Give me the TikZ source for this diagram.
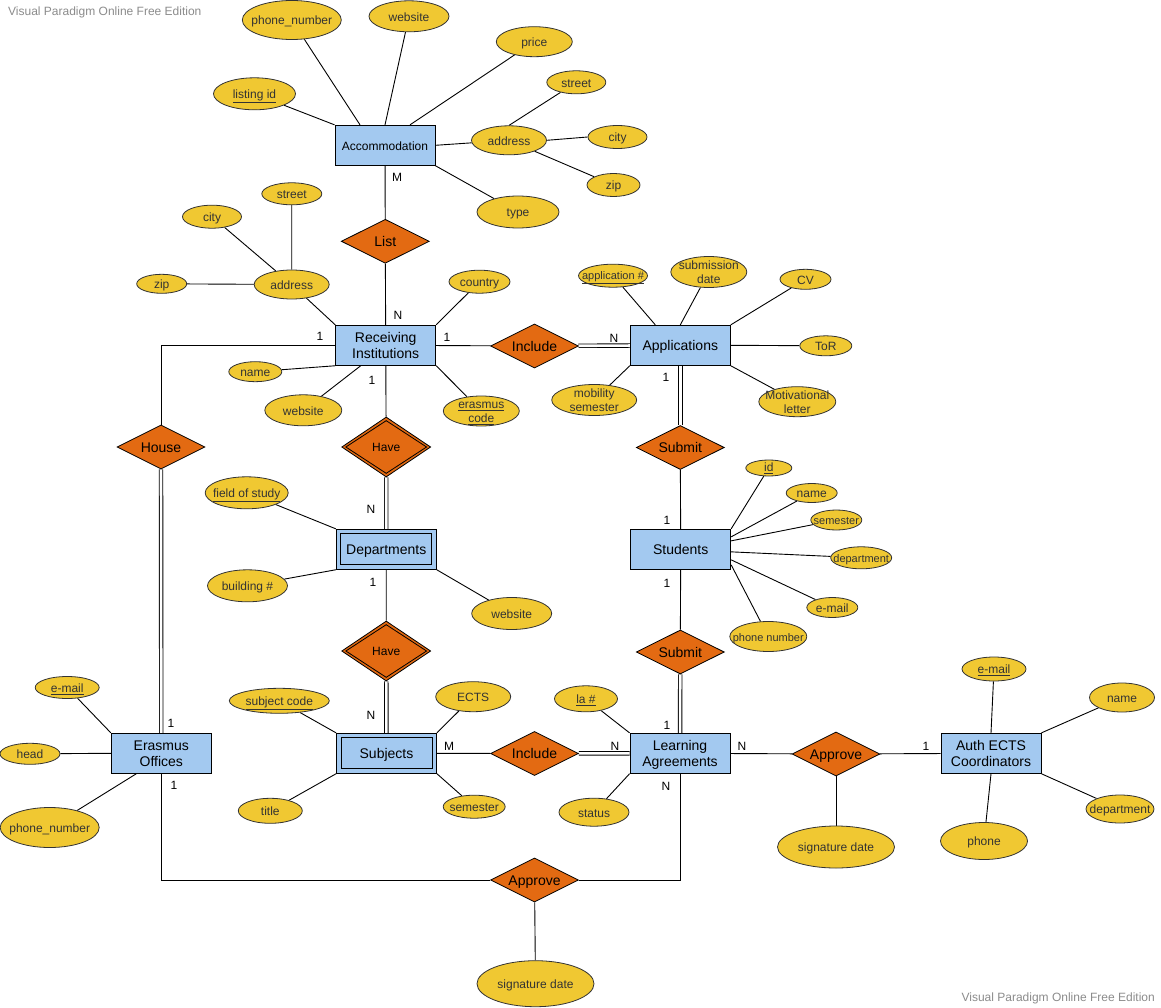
\documentclass[tikz,border=0pt]{standalone}
\usepackage{fontspec}
\setmainfont{Liberation Sans}
\usetikzlibrary{shapes.geometric,backgrounds}

\definecolor{entblue}{HTML}{A3C9F0}
\definecolor{relorange}{HTML}{E36A12}
\definecolor{attrgold}{HTML}{F0C832}
\definecolor{attrink}{HTML}{333333}
\definecolor{wmgray}{HTML}{8C8C8C}

% zero-size, centred text block so every shape keeps its own size
\newcommand\ctext[1]{\makebox[0pt]{\raisebox{\dimexpr-0.25em-2pt\relax}[0pt][0pt]{\begin{tabular}{@{}c@{}}#1\end{tabular}}}}

\tikzset{
  ent/.style={draw, fill=entblue, line width=0.9pt, minimum width=100pt, minimum height=40pt,
    inner sep=0pt, font=\fontsize{14}{16}\selectfont},
  rel/.style={diamond, draw, fill=relorange, line width=0.8pt, minimum width=88pt,
    minimum height=44pt, inner sep=0pt, font=\fontsize{14}{16}\selectfont},
  weakrel/.style={rel, minimum width=89pt, minimum height=60pt, font=\fontsize{12}{14}\selectfont},
  innerdia/.style={diamond, draw, line width=0.8pt, minimum width=81pt, minimum height=53pt, inner sep=0pt},
  attr/.style 2 args={ellipse, draw=black!80, fill=attrgold, line width=0.8pt,
    minimum width=#1pt, minimum height=#2pt, inner sep=0pt, text=attrink,
    font=\fontsize{12}{14}\selectfont},
  small/.style={font=\fontsize{11}{13}\selectfont},
  card/.style={inner sep=0pt, font=\fontsize{12}{14}\selectfont},
  link/.style={line width=0.9pt},
  dbl/.style={double, double distance=2.6pt, line width=0.9pt},
  wm/.style={inner sep=0pt, text=wmgray, font=\fontsize{12}{14}\selectfont}
}

\begin{document}
\begin{tikzpicture}[x=1pt,y=-1pt]
\useasboundingbox (0,0) rectangle (1161,1008);

% ---------- entities ----------
\node[ent, font=\fontsize{12}{14}\selectfont] (acc) at (385,145.3) {\ctext{Accommodation}};
\node[ent] (ri)   at (385.7,345.3) {\ctext{Receiving\\Institutions}};
\node[ent] (app)  at (680.3,345.3) {\ctext{Applications}};
\node[ent] (dep)  at (386.3,549.3) {\ctext{Departments}};
\node[ent] (stu)  at (680.7,549.3) {\ctext{Students}};
\node[ent] (eo)   at (161.3,753.3) {\ctext{Erasmus\\Offices}};
\node[ent] (sub)  at (386.5,753.3) {\ctext{Subjects}};
\node[ent] (la)   at (680,753.3)   {\ctext{Learning\\Agreements}};
\node[ent] (auth) at (991,753.3)   {\ctext{Auth ECTS\\Coordinators}};

% inner frames of the weak entities
\draw[line width=0.9pt] ([xshift=5pt,yshift=-5pt]dep.north west) rectangle ([xshift=-5pt,yshift=5pt]dep.south east);
\draw[line width=0.9pt] ([xshift=5pt,yshift=-5pt]sub.north west) rectangle ([xshift=-5pt,yshift=5pt]sub.south east);

% ---------- relationships ----------
\node[rel] (list)  at (385.3,241.3) {\ctext{List}};
\node[rel] (incA)  at (534.5,346)   {\ctext{Include}};
\node[rel] (house) at (161,447)     {\ctext{House}};
\node[weakrel] (have1) at (386.2,447) {\ctext{Have}};
\node[innerdia] (have1in) at (have1) {};
\node[rel] (subm1) at (680.3,447.5) {\ctext{Submit}};
\node[weakrel] (have2) at (386.2,651) {\ctext{Have}};
\node[innerdia] (have2in) at (have2) {};
\node[rel] (subm2) at (680.3,652)   {\ctext{Submit}};
\node[rel] (incB)  at (534.5,753.5) {\ctext{Include}};
\node[rel] (apprA) at (836,754)     {\ctext{Approve}};
\node[rel] (apprB) at (534.5,880)   {\ctext{Approve}};

% ---------- attributes ----------
% Accommodation
\node[attr={99}{39}] (phone1)  at (291.8,20)   {\ctext{phone\_number}};
\node[attr={80}{31}] (web1)    at (409,16.3)   {\ctext{website}};
\node[attr={76}{30}] (price)   at (534.3,41.7) {\ctext{price}};
\node[attr={82}{32}] (listid)  at (254.5,93.8) {\ctext{\underline{listing id}}};
\node[attr={59}{23}] (street1) at (576.3,82.3) {\ctext{street}};
\node[attr={75}{29}] (addr1)   at (509,140.3)  {\ctext{address}};
\node[attr={59}{23}] (city1)   at (617.5,137)  {\ctext{city}};
\node[attr={53}{23}] (zip1)    at (613.5,185)  {\ctext{zip}};
\node[attr={82}{32}] (type)    at (518,212)    {\ctext{type}};
% Receiving Institutions
\node[attr={60}{22}] (street2) at (291.8,193.8) {\ctext{street}};
\node[attr={59}{23}] (city2)   at (212,216.7)   {\ctext{city}};
\node[attr={50}{19}] (zip2)    at (161.7,283.8) {\ctext{zip}};
\node[attr={75}{29}] (addr2)   at (291.7,284.5) {\ctext{address}};
\node[attr={61}{23}] (country) at (479.5,281.7) {\ctext{country}};
\node[attr={53}{20}] (name2)   at (255.3,371.7) {\ctext{name}};
\node[attr={77}{31}] (web2)    at (303.3,410.3) {\ctext{website}};
\node[attr={76}{30}] (ecode)   at (481.3,411)   {\ctext{\underline{erasmus}\\\underline{code}}};
% Applications
\node[attr={69}{23}, small] (appno) at (613,275.7) {\ctext{\raisebox{1pt}{\underline{application \#}}}};
\node[attr={76}{31}] (subdate) at (708.8,272)   {\ctext{submission\\date}};
\node[attr={51}{20}] (cv)      at (805.5,279.3) {\ctext{CV}};
\node[attr={52}{20}] (tor)     at (825.8,345.8) {\ctext{ToR}};
\node[attr={85}{31}] (mobsem)  at (594.2,400)   {\ctext{mobility\\semester}};
\node[attr={77}{30}] (motiv)   at (797.3,401.7) {\ctext{Motivational\\letter}};
% Departments
\node[attr={83}{32}] (fos)     at (246.7,492.8) {\ctext{\underline{field of study}}};
\node[attr={80}{32}] (bno)     at (247.5,585.8) {\ctext{building \#}};
\node[attr={80}{32}] (web3)    at (511.7,613.5) {\ctext{website}};
% Students
\node[attr={46}{16}] (sid)     at (768.8,468)   {\ctext{\raisebox{1.5pt}{\underline{id}}}};
\node[attr={51}{19}] (sname)   at (811.7,493)   {\ctext{name}};
\node[attr={51}{20}, small] (ssem)   at (836.3,520)   {\ctext{semester}};
\node[attr={61}{22}, small] (sdept)  at (861.2,557.8) {\ctext{department}};
\node[attr={51}{20}] (smail)   at (832.3,607.5) {\ctext{e-mail}};
\node[attr={77}{30}, small] (sphone) at (768.3,636.5) {\ctext{phone number}};
% Erasmus Offices
\node[attr={64}{22}] (eomail)  at (67.2,687.5)  {\ctext{\underline{e-mail}}};
\node[attr={60}{21}] (head)    at (30,753.8)    {\ctext{head}};
\node[attr={99}{40}] (eophone) at (49.7,827.5)  {\ctext{phone\_number}};
% Subjects
\node[attr={100}{25}] (scode)  at (279.3,700.8) {\ctext{\underline{subject code}}};
\node[attr={75}{30}] (ects)    at (473.2,696.7) {\ctext{ECTS}};
\node[attr={64}{25}] (title)   at (270.3,810.8) {\ctext{title}};
\node[attr={62}{23}] (subsem)  at (474.2,806.7) {\ctext{semester}};
% Learning Agreements
\node[attr={63}{26}] (lano)    at (586,698.8)   {\ctext{\underline{la \#}}};
\node[attr={70}{28}] (status)  at (594,812.2)   {\ctext{status}};
\node[attr={117}{42}] (sig1)   at (836,847)     {\ctext{signature date}};
\node[attr={117}{46}] (sig2)   at (535.5,983.7) {\ctext{signature date}};
% Auth ECTS Coordinators
\node[attr={64}{24}] (amail)   at (994,669)     {\ctext{\underline{e-mail}}};
\node[attr={65}{29}] (aname)   at (1122,697.5)  {\ctext{name}};
\node[attr={68}{28}] (adept)   at (1120,809)    {\ctext{department}};
\node[attr={87}{37}] (aphone)  at (984,841)     {\ctext{phone}};

% ---------- cardinalities ----------
\node[card] (m1)  at (397,177) {M};
\node[card] (n1)  at (398,315) {N};
\node[card] (o1)  at (447,337) {1};
\node[card] (n2)  at (614,338) {N};
\node[card] (o2)  at (320,336) {1};
\node[card] (o3)  at (372,380) {1};
\node[card] (n3)  at (371,509) {N};
\node[card] (o4)  at (373,582) {1};
\node[card] (n4)  at (371,715) {N};
\node[card] (o5)  at (666,377) {1};
\node[card] (o6)  at (667,520) {1};
\node[card] (o7)  at (667,583) {1};
\node[card] (o8)  at (667,725) {1};
\node[card] (o9)  at (171,723) {1};
\node[card] (o10) at (174,785) {1};
\node[card] (n5)  at (666,786) {N};
\node[card] (m2)  at (449,746) {M};
\node[card] (n6)  at (615,746) {N};
\node[card] (n7)  at (742,746) {N};
\node[card] (o11) at (926,746) {1};

% ---------- edition marks ----------
\node[wm, anchor=west] (wmtop) at (8,12) {Visual Paradigm Online Free Edition};
\node[wm, anchor=east] (wmbot) at (1155,998) {Visual Paradigm Online Free Edition};

% ---------- connectors ----------
\begin{scope}[on background layer]
\fill[white] (0,0) rectangle (1161,1008);

% relationship lines
\draw[link] (acc) -- (list);
\draw[link] (list) -- (ri);
\draw[link] (ri) -- (incA);
\draw[dbl]  (incA) -- (app);
\draw[link] (ri.west) -| (house.north);
\draw[dbl]  (house) -- (eo);
\draw[link] (ri) -- (have1);
\draw[dbl]  (have1) -- (dep);
\draw[link] (dep) -- (have2);
\draw[dbl]  (have2) -- (sub);
\draw[dbl]  (app) -- (subm1);
\draw[link] (subm1) -- (stu);
\draw[link] (stu) -- (subm2);
\draw[dbl]  (subm2) -- (la);
\draw[link] (sub) -- (incB);
\draw[dbl]  (incB) -- (la);
\draw[link] (la) -- (apprA);
\draw[link] (apprA) -- (auth);
\draw[link] (apprA) -- (sig1);
\draw[link] (eo.south) |- (apprB.west);
\draw[link] (la.south) |- (apprB.east);
\draw[link] (apprB) -- (sig2);

% Accommodation attributes
\draw[link] (phone1) -- ([xshift=-25pt]acc.north);
\draw[link] (web1) -- (acc.north);
\draw[link] (price) -- ([xshift=25pt]acc.north);
\draw[link] (listid) -- (acc.north west);
\draw[link] (addr1) -- (acc.east);
\draw[link] (type) -- (acc.south east);
\draw[link] (addr1.north) -- (street1);
\draw[link] (addr1.east) -- (city1.west);
\draw[link] (addr1) -- (zip1);

% Receiving Institutions attributes
\draw[link] (addr2) -- (ri.north west);
\draw[link] (country) -- (ri.north east);
\draw[link] (name2) -- (ri.south west);
\draw[link] (web2) -- ([xshift=-25pt]ri.south);
\draw[link] (ecode) -- (ri.south east);
\draw[link] (addr2) -- (street2);
\draw[link] (addr2) -- (city2);
\draw[link] (addr2) -- (zip2);

% Applications attributes
\draw[link] (appno) -- ([xshift=-25pt]app.north);
\draw[link] (subdate) -- (app.north);
\draw[link] (cv) -- (app.north east);
\draw[link] (tor) -- (app.east);
\draw[link] (mobsem) -- (app.south west);
\draw[link] (motiv) -- (app.south east);

% Departments attributes
\draw[link] (fos) -- (dep.north west);
\draw[link] (bno) -- (dep.south west);
\draw[link] (web3) -- (dep.south east);

% Students attributes
\draw[link] (sid) -- (stu.north east);
\draw[link] (sname) -- ([yshift=-8pt]stu.north east);
\draw[link] (ssem) -- ([yshift=-12pt]stu.north east);
\draw[link] (sdept) -- ([yshift=-23pt]stu.north east);
\draw[link] (smail) -- ([yshift=-31pt]stu.north east);
\draw[link] (sphone) -- ([yshift=-36pt]stu.north east);

% Erasmus Offices attributes
\draw[link] (eomail) -- (eo.north west);
\draw[link] (head) -- (eo.west);
\draw[link] (eophone) -- ([xshift=-25pt]eo.south);

% Subjects attributes
\draw[link] (scode) -- (sub.north west);
\draw[link] (ects) -- (sub.north east);
\draw[link] (title) -- (sub.south west);
\draw[link] (subsem) -- (sub.south east);

% Learning Agreements attributes
\draw[link] (lano) -- (la.north west);
\draw[link] (status) -- (la.south west);

% Auth ECTS Coordinators attributes
\draw[link] (amail) -- (auth.north);
\draw[link] (aname) -- (auth.north east);
\draw[link] (adept) -- (auth.south east);
\draw[link] (aphone) -- (auth.south);
\end{scope}
\end{tikzpicture}
\end{document}
